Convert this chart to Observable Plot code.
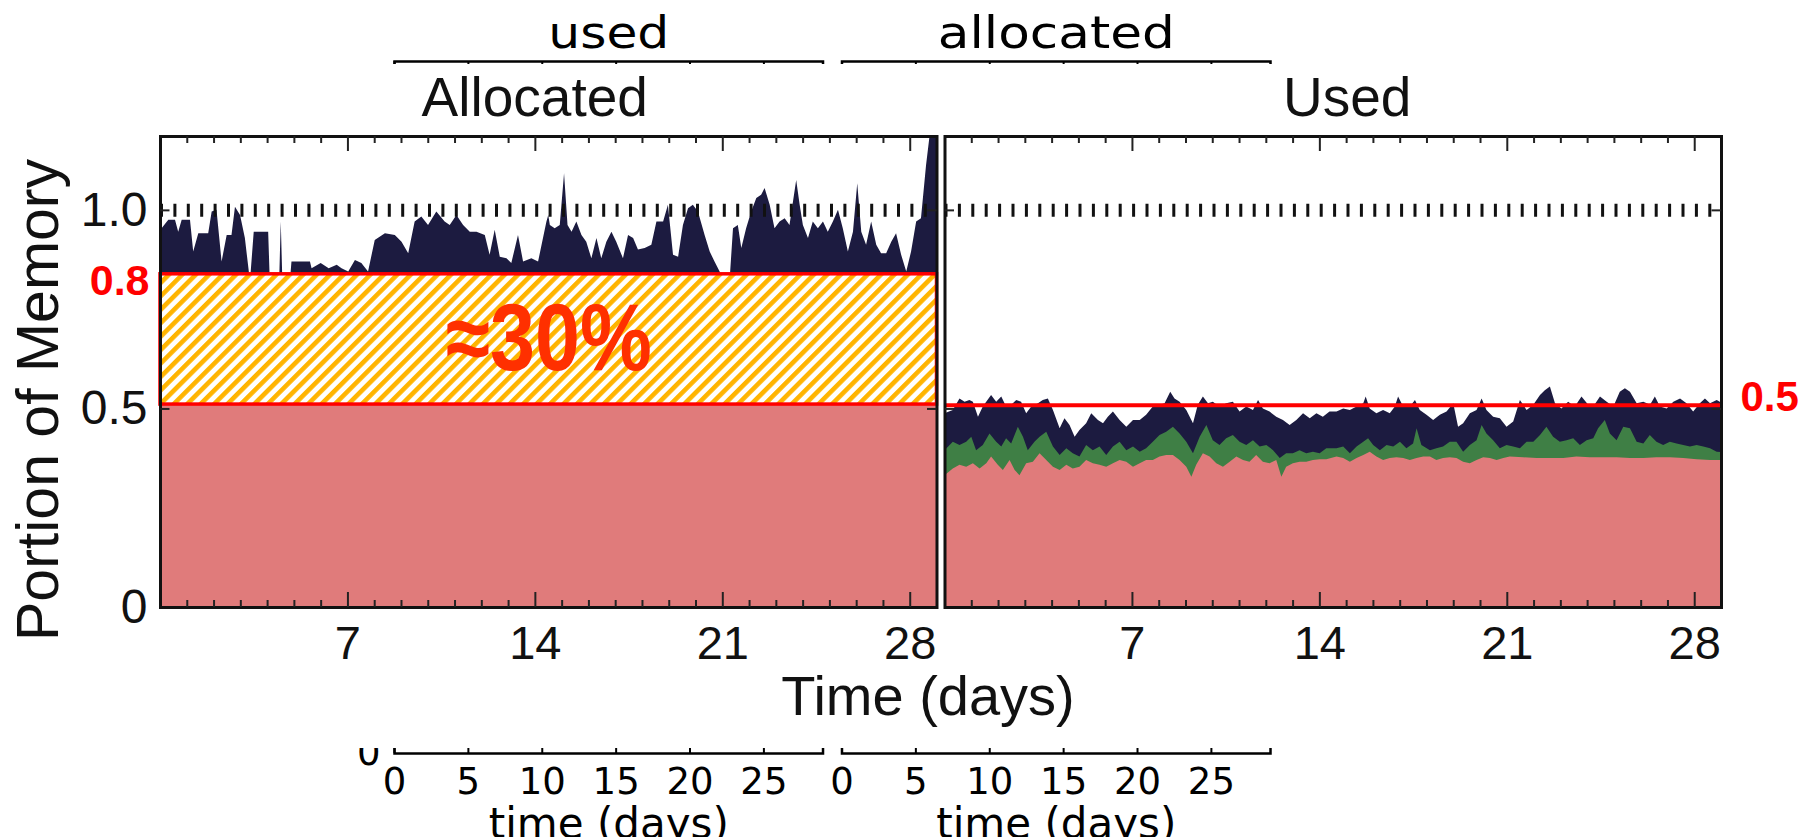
<!DOCTYPE html>
<html><head><meta charset="utf-8">
<script src="https://cdn.jsdelivr.net/npm/d3@7"></script>
<script src="https://cdn.jsdelivr.net/npm/@observablehq/plot@0.6"></script>
<style>
html,body{margin:0;padding:0;background:#fff;}
#wrap{position:relative;width:1802px;height:837px;overflow:hidden;}
#back,#front{position:absolute;left:0;}
#back{top:0;}
#front{top:64px;}
</style></head><body>
<div id="wrap"><div id="back"></div><div id="front"></div></div>
<script>
// ---------- data ----------
const panels = ["Allocated", "Used"];
const overlayPanels = ["used", "allocated"];
const overlayTicks = [0, 5, 10, 15, 20, 25];
const dayTicks = [7, 14, 21, 28];
const minorDayTicks = [1,2,3,4,5,6,8,9,10,11,12,13,15,16,17,18,19,20,22,23,24,25,26,27];
const yTicks = [0, 0.5, 1.0];
const yInnerTicks = [0.5, 1.0];
const referenceLevel = [1.0];

// Allocated panel: top of the navy area
const allocDays = [0,0.06,0.31,0.56,0.68,0.81,1.12,1.24,1.43,1.8,1.93,2.11,2.3,2.49,2.67,2.8,2.99,3.17,3.36,3.5,4.04,4.1,4.45,4.51,4.57,4.85,4.91,5.6,5.66,6,6.3,6.6,6.78,7.03,7.28,7.52,7.77,8.02,8.4,8.77,9.02,9.27,9.51,9.76,10.01,10.32,10.63,10.82,11.07,11.32,11.57,11.82,12.13,12.31,12.5,12.69,12.94,13.12,13.37,13.56,13.87,14.12,14.43,14.5,14.56,14.74,14.93,15.09,15.22,15.37,15.55,15.74,15.92,16.11,16.3,16.48,16.67,16.86,17.04,17.29,17.48,17.67,17.85,18.1,18.35,18.54,18.79,18.97,19.16,19.35,19.53,19.72,19.9,20.09,20.34,20.53,20.71,20.9,21.09,21.27,21.4,21.58,21.71,21.89,22.08,22.27,22.45,22.58,22.77,22.95,23.14,23.33,23.51,23.64,23.76,23.89,24.01,24.2,24.38,24.57,24.76,24.94,25.13,25.32,25.5,25.69,25.88,26.04,26.19,26.37,26.56,26.75,26.93,27.12,27.31,27.49,27.68,27.87,28.05,28.24,28.42,28.61,28.74,29];
const allocMemory = [0.93,0.954,0.975,0.975,0.945,0.975,0.975,0.895,0.941,0.941,0.996,1,0.87,0.937,0.937,1.008,0.987,0.929,0.82,0.945,0.945,0.82,0.82,0.971,0.82,0.82,0.87,0.87,0.853,0.866,0.853,0.862,0.853,0.845,0.874,0.866,0.845,0.924,0.941,0.937,0.92,0.891,0.971,0.983,0.962,0.996,0.971,0.962,0.987,0.962,0.945,0.945,0.937,0.887,0.95,0.882,0.878,0.866,0.937,0.87,0.878,0.87,0.97,0.987,0.962,0.954,0.962,1.092,0.962,0.945,0.971,0.937,0.92,0.878,0.929,0.878,0.92,0.945,0.92,0.878,0.937,0.929,0.9,0.904,0.912,0.971,0.971,1.013,0.887,0.882,0.962,1.004,1.013,0.996,0.937,0.895,0.87,0.845,0.82,0.82,0.954,0.962,0.904,0.954,0.996,1.03,1.038,1.055,1.013,0.954,0.971,0.979,0.962,1.021,1.075,1.013,0.962,0.929,0.971,0.954,0.971,0.945,0.971,1,0.954,0.895,0.945,1.067,0.945,0.912,0.971,0.912,0.891,0.891,0.92,0.941,0.887,0.845,0.895,0.971,0.979,1.113,1.186,1.186];

// Used panel: navy (top), green (middle), pink (base)
const usedTopDays = [0,0.31,0.56,0.75,0.93,1.06,1.25,1.43,1.74,1.93,2.12,2.3,2.49,2.68,2.86,3.05,3.24,3.49,3.67,3.86,4.05,4.3,4.48,4.67,4.86,5.04,5.29,5.48,5.73,5.92,6.1,6.29,6.54,6.79,7.04,7.29,7.53,7.78,8.03,8.22,8.43,8.59,8.78,9.03,9.28,9.46,9.65,9.84,10.02,10.27,10.52,10.77,11.02,11.27,11.52,11.71,11.89,12.14,12.39,12.64,12.89,13.14,13.39,13.64,13.89,14.13,14.38,14.64,14.89,15.14,15.39,15.64,15.73,15.88,16.13,16.38,16.63,16.82,16.94,17.13,17.38,17.57,17.75,18,18.25,18.5,18.75,19,19.18,19.37,19.62,19.87,20.06,20.24,20.49,20.74,20.99,21.24,21.49,21.74,21.99,22.24,22.42,22.61,22.8,23.04,23.29,23.54,23.79,24.04,24.23,24.48,24.73,24.98,25.22,25.41,25.6,25.85,26.1,26.35,26.53,26.72,26.97,27.22,27.47,27.71,27.96,28.21,28.4,28.59,28.84,29];
const usedTop = [0.488,0.496,0.525,0.517,0.521,0.517,0.479,0.505,0.534,0.517,0.53,0.505,0.509,0.521,0.517,0.488,0.505,0.513,0.521,0.525,0.496,0.45,0.475,0.458,0.429,0.446,0.463,0.488,0.471,0.463,0.479,0.492,0.471,0.454,0.471,0.471,0.484,0.505,0.509,0.513,0.542,0.525,0.517,0.496,0.463,0.509,0.53,0.513,0.517,0.505,0.513,0.517,0.492,0.505,0.496,0.521,0.5,0.492,0.479,0.471,0.458,0.471,0.488,0.475,0.488,0.479,0.492,0.492,0.5,0.496,0.505,0.513,0.53,0.5,0.488,0.496,0.488,0.505,0.53,0.505,0.505,0.521,0.496,0.484,0.471,0.484,0.492,0.513,0.454,0.463,0.488,0.496,0.525,0.496,0.479,0.475,0.454,0.467,0.521,0.496,0.509,0.534,0.546,0.555,0.513,0.5,0.517,0.505,0.53,0.509,0.505,0.53,0.517,0.505,0.542,0.551,0.542,0.513,0.517,0.509,0.53,0.505,0.5,0.517,0.525,0.513,0.492,0.513,0.525,0.513,0.521,0.515];
const usedMidDays = [0,0.31,0.56,0.81,1,1.18,1.43,1.68,1.93,2.12,2.3,2.49,2.74,2.93,3.11,3.36,3.55,3.8,4.05,4.3,4.55,4.79,5.04,5.29,5.54,5.79,6.04,6.29,6.54,6.79,7.04,7.29,7.53,7.78,8.03,8.28,8.53,8.78,9.03,9.28,9.53,9.78,10.02,10.27,10.52,10.77,11.02,11.27,11.52,11.77,12.02,12.27,12.52,12.76,13.01,13.26,13.51,13.76,14.01,14.26,14.64,14.89,15.14,15.39,15.64,15.82,16.01,16.26,16.51,16.76,17.01,17.25,17.5,17.63,17.81,18.13,18.37,18.62,18.87,19.12,19.37,19.62,19.87,20.06,20.24,20.49,20.74,20.99,21.24,21.49,21.74,21.99,22.24,22.48,22.73,22.98,23.23,23.48,23.73,23.98,24.23,24.41,24.66,24.85,25.1,25.35,25.6,25.85,26.1,26.34,26.59,26.84,27.09,27.34,27.59,27.84,28.09,28.34,28.59,28.84,29];
const usedMid = [0.395,0.416,0.408,0.416,0.429,0.395,0.408,0.437,0.416,0.404,0.425,0.412,0.454,0.429,0.395,0.416,0.429,0.441,0.404,0.383,0.4,0.387,0.379,0.408,0.395,0.404,0.383,0.404,0.416,0.395,0.404,0.391,0.4,0.416,0.433,0.441,0.454,0.437,0.416,0.387,0.429,0.458,0.42,0.408,0.425,0.433,0.416,0.408,0.42,0.404,0.408,0.395,0.375,0.387,0.387,0.395,0.387,0.391,0.387,0.4,0.4,0.404,0.387,0.404,0.416,0.425,0.408,0.395,0.408,0.404,0.416,0.4,0.412,0.45,0.408,0.395,0.4,0.404,0.416,0.416,0.391,0.408,0.42,0.458,0.437,0.42,0.4,0.408,0.404,0.4,0.416,0.416,0.433,0.454,0.429,0.416,0.42,0.425,0.408,0.42,0.425,0.45,0.471,0.437,0.42,0.454,0.45,0.416,0.412,0.433,0.416,0.408,0.416,0.412,0.408,0.404,0.408,0.404,0.4,0.391,0.39];
const usedBaseDays = [0,0.31,0.56,0.81,1.06,1.31,1.56,1.74,1.99,2.18,2.43,2.62,2.8,3.05,3.3,3.55,3.8,4.05,4.3,4.55,4.79,5.04,5.29,5.54,5.79,6.04,6.29,6.54,6.79,7.04,7.29,7.53,7.78,8.03,8.28,8.53,8.78,9.03,9.22,9.4,9.65,9.9,10.15,10.4,10.65,10.9,11.15,11.39,11.64,11.89,12.14,12.39,12.58,12.76,13.01,13.26,13.51,13.76,14.01,14.26,14.64,14.89,15.14,15.39,15.64,15.88,16.13,16.38,16.63,16.88,17.13,17.38,17.63,17.88,18.13,18.37,18.62,18.87,19.12,19.37,19.62,19.87,20.12,20.37,20.62,20.87,21.11,21.61,22.11,22.61,23.11,23.6,24.1,24.6,25.1,25.6,26.1,26.59,27.09,27.59,28.09,28.59,29];
const usedBase = [0.332,0.349,0.358,0.353,0.362,0.349,0.362,0.379,0.358,0.345,0.37,0.345,0.332,0.362,0.366,0.387,0.37,0.353,0.345,0.358,0.349,0.353,0.37,0.362,0.358,0.353,0.362,0.37,0.366,0.353,0.362,0.37,0.37,0.379,0.383,0.383,0.37,0.353,0.328,0.358,0.387,0.379,0.362,0.353,0.366,0.379,0.37,0.366,0.383,0.366,0.362,0.37,0.328,0.353,0.362,0.366,0.366,0.37,0.372,0.372,0.379,0.375,0.366,0.375,0.383,0.391,0.379,0.37,0.375,0.377,0.375,0.37,0.375,0.379,0.379,0.37,0.375,0.377,0.375,0.366,0.362,0.37,0.377,0.375,0.37,0.375,0.379,0.377,0.375,0.375,0.375,0.379,0.377,0.377,0.377,0.375,0.375,0.377,0.377,0.375,0.372,0.37,0.37];

// annotation levels as drawn, and their labels
const boxLevels = [{low: 0.511, high: 0.839}];
const usedLevel = [0.509];
const boxLabel = ["0.8"];
const usedLabel = ["0.5"];
const savingLabel = ["≈30%"];
const yLabel = ["Portion of Memory"];
const xLabel = ["Time (days)"];
const overlayXLabel = "time (days)";

// ---------- styles ----------
const NAVY = "#1c1b40", GREEN = "#3f7f45", PINK = "#e07b7b", RED = "#ff0000";
const SANS = "'Liberation Sans', Arial, sans-serif";
const overlayLabelWidth = {used: 121, allocated: 237}; // rendered (stretched) widths in the reference

const rows = (panel, days, vals) => days.map((d, i) => ({panel, day: d, value: vals[i]}));
const allocRows = rows("Allocated", allocDays, allocMemory);
const topRows = rows("Used", usedTopDays, usedTop);
const midRows = rows("Used", usedMidDays, usedMid);
const baseRows = rows("Used", usedBaseDays, usedBase);

// ---------- background chart (top labels + bottom axes) ----------
const OH = 692; // frame height of background chart
const back = Plot.plot({
  width: 1802, height: 837,
  marginTop: 61, marginBottom: 84, marginLeft: 394, marginRight: 532,
  style: {background: "white", fontFamily: "'DejaVu Sans', sans-serif", color: "black"},
  fx: {domain: overlayPanels, paddingInner: 0.0424, paddingOuter: 0, round: false, axis: null, label: null},
  x: {domain: [0, 29], label: null},
  y: {domain: [0, 1.05], label: null},
  marks: [
    Plot.frame({stroke: "black", strokeWidth: 2.5}),
    Plot.tickX(overlayTicks, {x: d => d, insetTop: OH - 10, stroke: "black", strokeWidth: 2}),
    Plot.tickX(overlayTicks, {x: d => d, insetBottom: OH - 10, stroke: "black", strokeWidth: 2}),
    Plot.axisX({ticks: overlayTicks, tickFormat: d => String(d), tickSize: 0, tickPadding: 14, fontSize: 37, label: null}),
    Plot.axisY({ticks: [0], tickFormat: d => String(d), tickSize: 0, tickPadding: 14, fontSize: 37, label: null}),
    Plot.text(overlayPanels, {fx: d => d, text: d => d, frameAnchor: "top", dy: -14, lineAnchor: "bottom", fontSize: 45, className: "olabel"}),
    Plot.text(overlayPanels, {fx: d => d, text: () => overlayXLabel, frameAnchor: "bottom", dy: 55, lineAnchor: "top", fontSize: 42})
  ]
});
d3.select(back).selectAll("g.olabel text").each(function () {
  const w = overlayLabelWidth[this.textContent];
  if (w) d3.select(this).attr("textLength", w).attr("lengthAdjust", "spacingAndGlyphs");
});
document.getElementById("back").appendChild(back);

// ---------- main chart ----------
const FH = 471, FW = 777; // frame height / facet width (for tick insets)
const main = Plot.plot({
  width: 1802, height: 684,
  marginTop: 72, marginBottom: 141, marginLeft: 160, marginRight: 81,
  style: {background: "white", fontFamily: SANS, color: "#111"},
  fx: {domain: panels, paddingInner: 0.0102, paddingOuter: 0, round: false, axis: null, label: null},
  x: {domain: [0, 29], label: null},
  y: {domain: [0, 1.186], label: null},
  marks: [
    Plot.areaY(allocRows, {fx: "panel", x: "day", y: "value", fill: NAVY, curve: "linear", clip: true}),
    Plot.areaY(topRows, {fx: "panel", x: "day", y: "value", fill: NAVY, curve: "linear"}),
    Plot.areaY(midRows, {fx: "panel", x: "day", y: "value", fill: GREEN, curve: "linear"}),
    Plot.areaY(baseRows, {fx: "panel", x: "day", y: "value", fill: PINK, curve: "linear"}),
    // annotation on the Allocated panel
    Plot.rect(boxLevels, {fx: () => "Allocated", x1: () => 0, x2: () => 29, y1: () => 0, y2: "low", fill: PINK}),
    Plot.rect(boxLevels, {fx: () => "Allocated", x1: () => 0, x2: () => 29, y1: "low", y2: "high", fill: "url(#hatch)", stroke: RED, strokeWidth: 3.5}),
    Plot.ruleY(usedLevel, {fx: () => "Used", y: d => d, stroke: RED, strokeWidth: 4}),
    Plot.ruleY(referenceLevel, {y: d => d, stroke: "#111", strokeWidth: 13, strokeDasharray: "3,10.4"}),
    Plot.frame({stroke: "#111", strokeWidth: 3}),
    // inward ticks
    Plot.tickX(minorDayTicks, {x: d => d, insetTop: FH - 7, stroke: "#222", strokeWidth: 2}),
    Plot.tickX(minorDayTicks, {x: d => d, insetBottom: FH - 7, stroke: "#222", strokeWidth: 2}),
    Plot.tickX(dayTicks, {x: d => d, insetTop: FH - 15, stroke: "#222", strokeWidth: 2}),
    Plot.tickX(dayTicks, {x: d => d, insetBottom: FH - 15, stroke: "#222", strokeWidth: 2}),
    Plot.tickY(yInnerTicks, {y: d => d, insetRight: FW - 10, stroke: "#222", strokeWidth: 2}),
    Plot.tickY(yInnerTicks, {y: d => d, insetLeft: FW - 10, stroke: "#222", strokeWidth: 2}),
    // axes
    Plot.axisX({ticks: dayTicks, tickFormat: d => String(d), tickSize: 0, tickPadding: 18, fontSize: 47, label: null}),
    Plot.axisY({ticks: yTicks, tickFormat: d => d === 0 ? "0" : d.toFixed(1), tickSize: 0, tickPadding: 13, fontSize: 48, label: null}),
    // panel titles
    Plot.text(["Allocated"], {fx: d => d, text: d => d, frameAnchor: "top", dy: -21, dx: -14, lineAnchor: "bottom", fontSize: 55}),
    Plot.text(["Used"], {fx: d => d, text: d => d, frameAnchor: "top", dy: -21, dx: 14, lineAnchor: "bottom", fontSize: 55}),
    // axis titles
    Plot.text(yLabel, {fx: () => "Allocated", text: d => d, frameAnchor: "left", textAnchor: "middle", rotate: -90, dx: -103, dy: 28, lineAnchor: "bottom", fontSize: 59}),
    Plot.text(xLabel, {fx: () => "Allocated", text: d => d, frameAnchor: "bottom-right", dx: -9, dy: 107, textAnchor: "middle", lineAnchor: "bottom", fontSize: 56}),
    // annotation labels
    Plot.text(boxLabel, {fx: () => "Allocated", y: () => boxLevels[0].high, text: d => d, frameAnchor: "left", textAnchor: "end", dx: -11, dy: 7, fill: RED, fontWeight: "bold", fontSize: 43}),
    Plot.text(usedLabel, {fx: () => "Used", y: () => usedLevel[0], text: d => d, frameAnchor: "right", textAnchor: "start", dx: 19, dy: -8, fill: RED, fontWeight: "bold", fontSize: 42}),
    Plot.text(savingLabel, {fx: () => "Allocated", y: () => (boxLevels[0].low + boxLevels[0].high) / 2, text: d => d, frameAnchor: "middle", textAnchor: "middle", lineAnchor: "middle", fill: "#ff3000", fontWeight: "bold", fontSize: 94, className: "saving"})
  ]
});
// hatch pattern for the annotation box
const defs = d3.select(main).insert("defs", ":first-child");
const pat = defs.append("pattern").attr("id", "hatch").attr("patternUnits", "userSpaceOnUse")
  .attr("width", 9.5).attr("height", 9.5).attr("patternTransform", "rotate(45)");
pat.append("rect").attr("width", 9.5).attr("height", 9.5).attr("fill", "white");
pat.append("rect").attr("width", 4.6).attr("height", 9.5).attr("fill", "#ffb400");
// the "≈30%" label is drawn in a narrow (condensed) face in the reference
d3.select(main).selectAll("g.saving text").attr("textLength", 206).attr("lengthAdjust", "spacingAndGlyphs");
document.getElementById("front").appendChild(main);
</script></body></html>
